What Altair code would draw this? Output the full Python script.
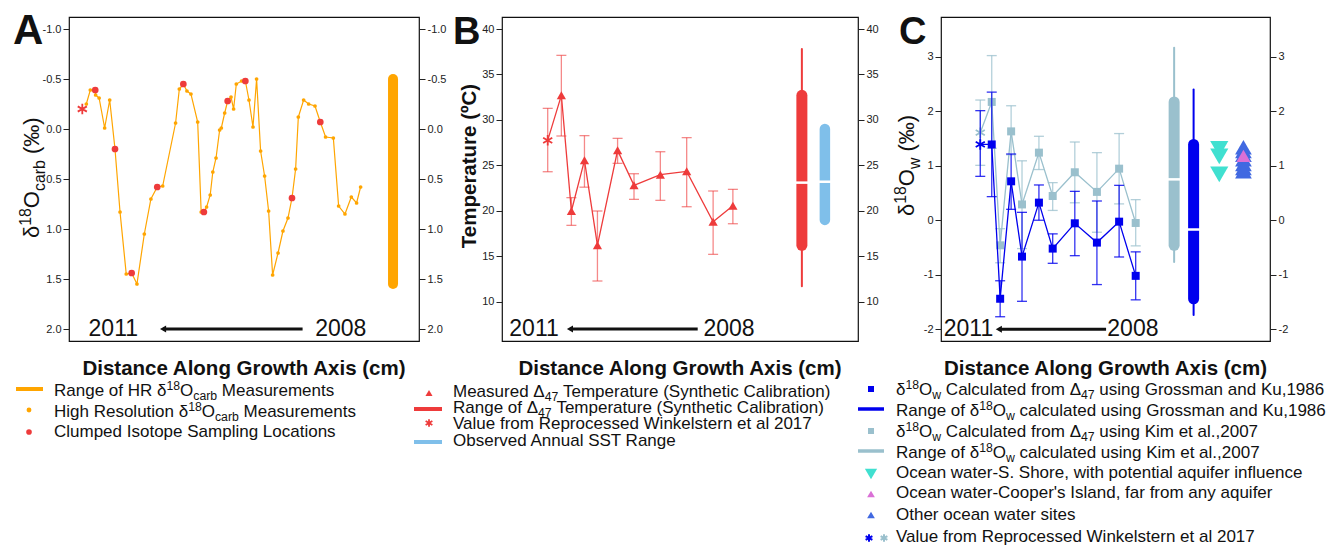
import altair as alt
import pandas as pd

FONT = "Liberation Sans"
ORANGE = "#FFA500"
RED = "#EE3B3B"
SKY = "#7FBFEA"
DARKBLUE = "#0000EE"
LIGHTBLUE = "#9AC0CD"
TURQ = "#40E0D0"
ORCHID = "#DA70D6"
ROYAL = "#4169E1"
INK = "#111111"

# ---------------- data ----------------
# Panel A: high-resolution d18O carb profile
hr_x = [0.31, 0.62, 1.0, 1.03, 1.3, 1.73, 2.12, 2.53, 2.92, 3.4, 3.82, 4.23, 4.8, 5.31, 5.8, 6.22,
        7.22, 7.51, 7.82, 8.1, 8.41, 8.93, 9.2, 9.41, 9.62, 9.9, 10.1, 10.35, 10.63, 10.76, 11.02,
        11.25, 11.51, 11.71, 11.92, 12.33, 12.62, 12.9, 13.21, 13.49, 13.8, 14.11, 14.42, 14.73,
        15.15, 15.53, 15.92, 16.23, 16.51, 16.72, 17.13, 17.52, 18.01, 18.42, 18.83, 19.43, 19.84,
        20.33, 20.82, 21.23, 21.54]
hr_d18o = [-0.25, -0.39, -0.39, -0.34, -0.31, -0.01, -0.29, 0.2, 0.83, 1.45, 1.44, 1.55, 1.05, 0.7,
           0.58, 0.57, -0.06, -0.40, -0.45, -0.38, -0.35, -0.07, 0.83, 0.83, 0.78, 0.66, 0.43, 0.29,
           0.01, -0.01, -0.16, -0.28, -0.32, -0.2, -0.45, -0.48, -0.48, -0.29, -0.02, -0.5, 0.22,
           0.47, 0.82, 1.46, 1.24, 1.02, 0.89, 0.69, 0.4, -0.12, -0.29, -0.25, -0.23, -0.07, 0.08,
           0.09, 0.77, 0.85, 0.68, 0.74, 0.58]
ci_x_a = [1.0, 2.53, 3.82, 5.8, 7.82, 9.41, 11.25, 12.62, 16.23, 18.42]
ci_d18o = [-0.39, 0.2, 1.44, 0.58, -0.45, 0.83, -0.28, -0.48, 0.69, -0.07]
wink_a = [0.0, -0.2]
hr_range = [-0.5, 1.55]
hr_range_x = 24.05

# Panel B: clumped temperatures
clumped_x = [1.39, 2.41, 3.74, 5.06, 7.11, 8.78, 11.46, 14.14, 16.83, 18.84]
temp = [32.7, 19.98, 25.55, 16.2, 26.65, 22.8, 23.97, 24.34, 18.8, 20.57]
temp_hi = [37.1, 21.45, 28.27, 19.98, 27.97, 24.08, 26.5, 28.05, 22.18, 22.36]
temp_lo = [28.23, 18.4, 22.6, 12.28, 25.22, 21.26, 21.15, 20.45, 15.21, 18.58]
wink_temp = [0.0, 27.75, 24.3, 31.27]  # x, value, lo, hi
temp_err_range = [11.7, 37.8]
temp_range = [16.2, 32.7]
temp_mid = 23.1
temp_range_x = 25.86
sst_range = [19.0, 29.0]
sst_mid = 23.2
sst_x = 28.2

# Panel C: d18O water
gk = [1.39, -1.44, 0.714, -0.667, 0.323, -0.52, -0.056, -0.41, -0.026, -1.02]
gk_hi = [2.35, -1.11, 1.215, 0.145, 0.647, -0.25, 0.53, 0.353, 0.64, -0.58]
gk_lo = [0.433, -1.77, 0.2, -1.487, 0.0, -0.79, -0.65, -1.18, -0.674, -1.46]
wink_gk = [0.0, 1.39, 0.805, 2.01]
kim = [2.17, -0.46, 1.63, 0.29, 1.24, 0.445, 0.88, 0.52, 0.946, -0.05]
kim_hi = [3.02, -0.155, 2.1, 1.09, 1.54, 0.69, 1.435, 1.24, 1.59, 0.378]
kim_lo = [1.32, -0.78, 1.2, -0.52, 0.93, 0.18, 0.32, -0.22, 0.3, -0.47]
wink_kim = [0.0, 1.606, 1.007, 2.205]
kim_err_range = [-0.765, 3.165]
kim_range = [-0.46, 2.17]
kim_mid = 0.75
kim_range_x = 23.5
gk_err_range = [-1.74, 2.40]
gk_range = [-1.44, 1.39]
gk_mid = -0.17
gk_range_x = 25.86
ocean_s_shore = [1.31, 1.17, 0.84]
ocean_s_shore_x = 28.97
ocean_cooper = [1.18]
ocean_other = [1.34, 1.27, 1.20, 1.12, 1.03, 0.96, 0.90]
ocean_other_x = 31.9

# ---------------- helpers ----------------
WID = {' ': 278, '(': 333, ')': 333, ',': 278, '-': 333, '.': 278, "'": 191,
       'A': 667, 'B': 667, 'C': 722, 'D': 722, 'E': 667, 'F': 611, 'G': 778, 'H': 722, 'I': 278,
       'J': 500, 'K': 667, 'L': 556, 'M': 833, 'N': 722, 'O': 778, 'P': 667, 'Q': 778, 'R': 722,
       'S': 667, 'T': 611, 'U': 722, 'V': 667, 'W': 944, 'X': 667, 'Y': 667, 'Z': 611,
       'a': 556, 'b': 556, 'c': 500, 'd': 556, 'e': 556, 'f': 278, 'g': 556, 'h': 556, 'i': 222,
       'j': 222, 'k': 500, 'l': 222, 'm': 833, 'n': 556, 'o': 556, 'p': 556, 'q': 556, 'r': 333,
       's': 500, 't': 278, 'u': 556, 'v': 500, 'w': 722, 'x': 500, 'y': 500, 'z': 500,
       'δ': 556, 'Δ': 668, '‰': 1000, 'º': 365}


def tw(s, size):
    return sum(WID.get(c, 556) for c in s) * size / 1000.0


ONE = pd.DataFrame({"d": [0]})
STAR = "M0,-1L0,1M-0.87,-0.5L0.87,0.5M-0.87,0.5L0.87,-0.5"


def txt(s, x, y, size, color=INK, weight="normal", align="left", baseline="alphabetic", angle=0):
    return alt.Chart(ONE).mark_text(text=s, font=FONT, fontSize=size, fontWeight=weight, align=align,
                                    baseline=baseline, angle=angle, color=color).encode(
        x=alt.value(x), y=alt.value(y))


def rich(pieces, x, y, size, angle=0):
    """Draw a line of text made of normal / superscript / subscript pieces."""
    out = []
    pos = 0.0
    for s, mode in pieces:
        fs = size if mode == "n" else size * 0.72
        shift = 0.0 if mode == "n" else (-0.38 * size if mode == "sup" else 0.26 * size)
        lead = len(s) - len(s.lstrip(" "))
        pos += tw(" " * lead, fs)          # leading blanks become an offset
        core = s.strip(" ")
        if angle == 0:
            out.append(txt(core, x + pos, y + shift, fs))
        else:
            out.append(txt(core, x + shift, y - pos, fs, angle=270))
        pos += tw(s[lead:], fs)
    return out


def sym(x, y, shape, size, color, filled=True, sw=1.5):
    return alt.Chart(ONE).mark_point(shape=shape, size=size, color=color, filled=filled, opacity=1,
                                     strokeWidth=sw).encode(x=alt.value(x), y=alt.value(y))


def hline(x1, x2, y, color, sw=4):
    return alt.Chart(ONE).mark_rule(color=color, strokeWidth=sw).encode(
        x=alt.value(x1), x2=alt.value(x2), y=alt.value(y))


AX = dict(labelFont=FONT, labelFontSize=11, labelColor="#222", tickColor="#222", tickSize=6,
          tickWidth=1, domain=False, grid=False, title=None)


def axis_layers(xs, ys, xticks, yticks, ylab):
    df = pd.DataFrame({"x": [xticks[0]], "y": [yticks[0]]})
    left = alt.Chart(df).mark_point(opacity=0).encode(
        x=alt.X("x:Q", scale=xs, axis=alt.Axis(values=xticks, orient="bottom", format="d",
                                               labelPadding=3, **AX)),
        y=alt.Y("y:Q", scale=ys, axis=alt.Axis(values=yticks, orient="left", labelExpr=ylab,
                                               labelPadding=2, **AX)))
    right = alt.Chart(df).mark_point(opacity=0).encode(
        x=alt.X("x:Q", scale=xs, axis=None),
        y=alt.Y("y:Q", scale=ys, axis=alt.Axis(values=yticks, orient="right", labelExpr=ylab,
                                               labelPadding=2, **AX)))
    return [left, right]


def annot(xs, ys, x2011, x2008, xtail, xhead, yv):
    df = pd.DataFrame({"a": [x2011], "b": [x2008], "t": [xtail], "h": [xhead], "y": [yv]})
    base = alt.Chart(df)
    return [
        base.mark_text(text="2011", font=FONT, fontSize=23, baseline="middle", align="center",
                       color=INK).encode(x=alt.X("a:Q", scale=xs, axis=None),
                                         y=alt.Y("y:Q", scale=ys, axis=None)),
        base.mark_text(text="2008", font=FONT, fontSize=23, baseline="middle", align="center",
                       color=INK).encode(x=alt.X("b:Q", scale=xs, axis=None),
                                         y=alt.Y("y:Q", scale=ys, axis=None)),
        base.mark_rule(color=INK, strokeWidth=3).encode(
            x=alt.X("t:Q", scale=xs, axis=None), x2="h:Q", y=alt.Y("y:Q", scale=ys, axis=None)),
        base.mark_point(shape="triangle-left", size=50, filled=True, color=INK, opacity=1).encode(
            x=alt.X("h:Q", scale=xs, axis=None), y=alt.Y("y:Q", scale=ys, axis=None)),
    ]


def errbars(df, xs, ys, color, op, xf="x", lo="lo", hi="hi", sw=1.3, cap=100):
    b = alt.Chart(df)
    X = alt.X(f"{xf}:Q", scale=xs, axis=None)
    return [
        b.mark_rule(color=color, opacity=op, strokeWidth=sw).encode(
            x=X, y=alt.Y(f"{lo}:Q", scale=ys, axis=None), y2=f"{hi}:Q"),
        b.mark_point(shape="stroke", size=cap, color=color, opacity=op, filled=False, strokeWidth=sw).encode(
            x=X, y=alt.Y(f"{lo}:Q", scale=ys, axis=None)),
        b.mark_point(shape="stroke", size=cap, color=color, opacity=op, filled=False, strokeWidth=sw).encode(
            x=X, y=alt.Y(f"{hi}:Q", scale=ys, axis=None)),
    ]


def rangebar(xs, ys, xv, lo, hi, color, sw):
    df = pd.DataFrame({"x": [xv], "lo": [lo], "hi": [hi]})
    return alt.Chart(df).mark_rule(color=color, strokeWidth=sw, strokeCap="round").encode(
        x=alt.X("x:Q", scale=xs, axis=None), y=alt.Y("lo:Q", scale=ys, axis=None), y2="hi:Q")


def gap(xs, ys, xv, yv):
    df = pd.DataFrame({"x": [xv], "y": [yv]})
    return alt.Chart(df).mark_point(shape="stroke", size=196, color="white", filled=False,
                                    strokeWidth=2.5, opacity=1).encode(
        x=alt.X("x:Q", scale=xs, axis=None), y=alt.Y("y:Q", scale=ys, axis=None))


XTITLE = "Distance Along Growth Axis (cm)"
MINUS = "replace(format(datum.value, '.1f'), '\u2212', '-')"
MINUS_D = "replace(format(datum.value, 'd'), '\u2212', '-')"

# ---------------- Panel A ----------------
WA, HA = 350, 324
xsA = alt.Scale(domain=[-1.03, 26.06], nice=False, zero=False)
ysA = alt.Scale(domain=[-1.12, 2.12], nice=False, zero=False, reverse=True)
dfA = pd.DataFrame({"x": hr_x, "y": hr_d18o})
dfAci = pd.DataFrame({"x": ci_x_a, "y": ci_d18o})
dfAw = pd.DataFrame({"x": [wink_a[0]], "y": [wink_a[1]]})
XA = alt.X("x:Q", scale=xsA, axis=None)
YA = alt.Y("y:Q", scale=ysA, axis=None)

layersA = axis_layers(xsA, ysA, [0, 5, 10, 15, 20, 25], [-1.0, -0.5, 0.0, 0.5, 1.0, 1.5, 2.0], MINUS)
layersA += [
    alt.Chart(ONE).mark_rect(opacity=0).encode(x=alt.value(-68), x2=alt.value(-67),
                                               y=alt.value(-16), y2=alt.value(-15)),
    alt.Chart(dfA).mark_line(color=ORANGE, strokeWidth=1.2).encode(x=XA, y=YA),
    alt.Chart(dfA).mark_point(filled=True, color=ORANGE, size=14, opacity=1).encode(x=XA, y=YA),
    alt.Chart(dfAci).mark_point(filled=True, color=RED, size=45, opacity=1).encode(x=XA, y=YA),
    alt.Chart(dfAw).mark_point(shape=STAR, filled=False, color=RED, size=110, strokeWidth=1.8,
                               opacity=1).encode(x=XA, y=YA),
    rangebar(xsA, ysA, hr_range_x, hr_range[0], hr_range[1], ORANGE, 10),
]
layersA += annot(xsA, ysA, 2.4, 20.0, 17.05, 6.25, 2.0)
layersA += [
    txt("A", -56, 27, 42, weight="bold"),
    txt(XTITLE, WA / 2, 358, 20.5, weight="bold", align="center"),
]
layersA += rich([("δ", "n"), ("18", "sup"), ("O", "n"), ("carb", "sub"), (" (‰)", "n")], -30, 221, 22, angle=270)
# legend A
layersA += [hline(-53, -26, 372, ORANGE), sym(-40, 393, "circle", 24, ORANGE), sym(-40, 415, "circle", 32, RED)]
layersA += rich([("Range of HR δ", "n"), ("18", "sup"), ("O", "n"), ("carb", "sub"), (" Measurements", "n")], -15, 379, 17)
layersA += rich([("High Resolution δ", "n"), ("18", "sup"), ("O", "n"), ("carb", "sub"), (" Measurements", "n")], -15, 400, 17)
layersA += [txt("Clumped Isotope Sampling Locations", -15, 420, 17)]
panelA = alt.layer(*layersA).properties(width=WA, height=HA).resolve_axis(y="independent")

# ---------------- Panel B ----------------
WB, HB = 356, 324
xsB = alt.Scale(domain=[-4.65, 31.57], nice=False, zero=False)
ysB = alt.Scale(domain=[5.68, 41.32], nice=False, zero=False)
dfB = pd.DataFrame({"x": clumped_x, "y": temp, "lo": temp_lo, "hi": temp_hi})
dfBw = pd.DataFrame({"x": [wink_temp[0]], "y": [wink_temp[1]], "lo": [wink_temp[2]], "hi": [wink_temp[3]]})
dfBl = pd.DataFrame({"x": [wink_temp[0]] + clumped_x, "y": [wink_temp[1]] + temp})
XB = alt.X("x:Q", scale=xsB, axis=None)
YB = alt.Y("y:Q", scale=ysB, axis=None)

layersB = axis_layers(xsB, ysB, [0, 5, 10, 15, 20], [10, 15, 20, 25, 30, 35, 40], MINUS_D)
layersB += errbars(dfB, xsB, ysB, RED, 0.6)
layersB += errbars(dfBw, xsB, ysB, RED, 0.6)
layersB += [
    alt.Chart(dfBl).mark_line(color=RED, strokeWidth=1.3).encode(x=XB, y=YB),
    alt.Chart(dfB).mark_point(shape="triangle-up", filled=True, color=RED, size=85, opacity=1).encode(x=XB, y=YB),
    alt.Chart(dfBw).mark_point(shape=STAR, filled=False, color=RED, size=110, strokeWidth=1.8,
                               opacity=1).encode(x=XB, y=YB),
    rangebar(xsB, ysB, temp_range_x, temp_err_range[0], temp_err_range[1], RED, 2),
    rangebar(xsB, ysB, temp_range_x, temp_range[0], temp_range[1], RED, 11),
    gap(xsB, ysB, temp_range_x, temp_mid),
    rangebar(xsB, ysB, sst_x, sst_range[0], sst_range[1], SKY, 10.5),
    gap(xsB, ysB, sst_x, sst_mid),
]
layersB += annot(xsB, ysB, -1.39, 18.45, 15.26, 2.26, 7.0)
layersB += [
    txt("B", -49, 27, 38, weight="bold"),
    txt(XTITLE, WB / 2, 358, 20.5, weight="bold", align="center"),
    txt("Temperature (ºC)", -26, 149, 20.5, weight="bold", align="center", angle=270),
]
layersB += [sym(-73, 376, "triangle-up", 50, RED), hline(-88, -60, 392, RED),
            sym(-73, 406, STAR, 60, RED, filled=False, sw=1.8), hline(-88, -60, 425, SKY)]
layersB += rich([("Measured Δ", "n"), ("47", "sub"), (" Temperature (Synthetic Calibration)", "n")], -49, 380, 17)
layersB += rich([("Range of Δ", "n"), ("47", "sub"), (" Temperature (Synthetic Calibration)", "n")], -49, 396, 17)
layersB += [txt("Value from Reprocessed Winkelstern et al 2017", -49, 412, 17),
            txt("Observed Annual SST Range", -49, 429, 17)]
panelB = alt.layer(*layersB).properties(width=WB, height=HB).resolve_axis(y="independent")

# ---------------- Panel C ----------------
WC, HC = 329, 324
xsC = alt.Scale(domain=[-4.76, 35.12], nice=False, zero=False)
ysC = alt.Scale(domain=[-2.215, 3.728], nice=False, zero=False)
dfCg = pd.DataFrame({"x": clumped_x, "y": gk, "lo": gk_lo, "hi": gk_hi})
dfCk = pd.DataFrame({"x": clumped_x, "y": kim, "lo": kim_lo, "hi": kim_hi})
dfCgw = pd.DataFrame({"x": [wink_gk[0]], "y": [wink_gk[1]], "lo": [wink_gk[2]], "hi": [wink_gk[3]]})
dfCkw = pd.DataFrame({"x": [wink_kim[0]], "y": [wink_kim[1]], "lo": [wink_kim[2]], "hi": [wink_kim[3]]})
dfCgl = pd.DataFrame({"x": [wink_gk[0]] + clumped_x, "y": [wink_gk[1]] + gk})
dfCkl = pd.DataFrame({"x": [wink_kim[0]] + clumped_x, "y": [wink_kim[1]] + kim})
dfSS = pd.DataFrame({"x": [ocean_s_shore_x] * len(ocean_s_shore), "y": ocean_s_shore})
dfOT = pd.DataFrame({"x": [ocean_other_x] * len(ocean_other), "y": ocean_other})
dfCO = pd.DataFrame({"x": [ocean_other_x] * len(ocean_cooper), "y": ocean_cooper})
XC = alt.X("x:Q", scale=xsC, axis=None)
YC = alt.Y("y:Q", scale=ysC, axis=None)

layersC = axis_layers(xsC, ysC, [0, 5, 10, 15, 20], [-2, -1, 0, 1, 2, 3], MINUS_D)
layersC += errbars(dfCk, xsC, ysC, LIGHTBLUE, 0.75)
layersC += errbars(dfCkw, xsC, ysC, LIGHTBLUE, 0.75)
layersC += [
    alt.Chart(dfCkl).mark_line(color=LIGHTBLUE, strokeWidth=1.3).encode(x=XC, y=YC),
    alt.Chart(dfCk).mark_point(shape="square", filled=True, color=LIGHTBLUE, size=64, opacity=1).encode(x=XC, y=YC),
    alt.Chart(dfCkw).mark_point(shape=STAR, filled=False, color=LIGHTBLUE, size=110, strokeWidth=1.8,
                                opacity=1).encode(x=XC, y=YC),
]
layersC += errbars(dfCg, xsC, ysC, DARKBLUE, 0.8)
layersC += errbars(dfCgw, xsC, ysC, DARKBLUE, 0.8)
layersC += [
    alt.Chart(dfCgl).mark_line(color=DARKBLUE, strokeWidth=1.3).encode(x=XC, y=YC),
    alt.Chart(dfCg).mark_point(shape="square", filled=True, color=DARKBLUE, size=64, opacity=1).encode(x=XC, y=YC),
    alt.Chart(dfCgw).mark_point(shape=STAR, filled=False, color=DARKBLUE, size=110, strokeWidth=1.8,
                                opacity=1).encode(x=XC, y=YC),
    rangebar(xsC, ysC, kim_range_x, kim_err_range[0], kim_err_range[1], LIGHTBLUE, 2),
    rangebar(xsC, ysC, kim_range_x, kim_range[0], kim_range[1], LIGHTBLUE, 11),
    gap(xsC, ysC, kim_range_x, kim_mid),
    rangebar(xsC, ysC, gk_range_x, gk_err_range[0], gk_err_range[1], DARKBLUE, 2),
    rangebar(xsC, ysC, gk_range_x, gk_range[0], gk_range[1], DARKBLUE, 11),
    gap(xsC, ysC, gk_range_x, gk_mid),
    alt.Chart(dfSS).mark_point(shape="triangle-down", filled=True, color=TURQ, size=330, opacity=1).encode(x=XC, y=YC),
    alt.Chart(dfOT).mark_point(shape="triangle-up", filled=True, color=ROYAL, size=280, opacity=1).encode(x=XC, y=YC),
    alt.Chart(dfCO).mark_point(shape="triangle-up", filled=True, color=ORCHID, size=200, opacity=1).encode(x=XC, y=YC),
]
layersC += annot(xsC, ysC, -1.43, 18.5, 15.25, 2.25, -2.0)
layersC += [
    txt("C", -42, 27, 38, weight="bold"),
    txt(XTITLE, WC / 2, 358, 20.5, weight="bold", align="center"),
]
layersC += rich([("δ", "n"), ("18", "sup"), ("O", "n"), ("w", "sub"), (" (‰)", "n")], -27, 199, 22, angle=270)
layersC += [
    sym(-70, 372, "square", 36, DARKBLUE), hline(-83, -57, 392, DARKBLUE, 3.5),
    sym(-70, 414, "square", 36, LIGHTBLUE), hline(-83, -57, 434, LIGHTBLUE, 3.5),
    sym(-70, 457, "triangle-down", 150, TURQ), sym(-70, 477, "triangle-up", 60, ORCHID),
    sym(-70, 498, "triangle-up", 60, ROYAL),
    sym(-72, 521, STAR, 60, DARKBLUE, filled=False, sw=2), sym(-57, 521, STAR, 60, LIGHTBLUE, filled=False, sw=2),
]
layersC += rich([("δ", "n"), ("18", "sup"), ("O", "n"), ("w", "sub"), (" Calculated from Δ", "n"), ("47", "sub"),
                 (" using Grossman and Ku,1986", "n")], -45, 378, 17)
layersC += rich([("Range of δ", "n"), ("18", "sup"), ("O", "n"), ("w", "sub"),
                 (" calculated using Grossman and Ku,1986", "n")], -45, 399, 17)
layersC += rich([("δ", "n"), ("18", "sup"), ("O", "n"), ("w", "sub"), (" Calculated from Δ", "n"), ("47", "sub"),
                 (" using Kim et al.,2007", "n")], -45, 420, 17)
layersC += rich([("Range of δ", "n"), ("18", "sup"), ("O", "n"), ("w", "sub"),
                 (" calculated using Kim et al.,2007", "n")], -45, 441, 17)
layersC += [
    txt("Ocean water-S. Shore, with potential aquifer influence", -45, 461, 17),
    txt("Ocean water-Cooper's Island, far from any aquifer", -45, 481, 17),
    txt("Other ocean water sites", -45, 503, 17),
    txt("Value from Reprocessed Winkelstern et al 2017", -45, 525, 17),
]
panelC = alt.layer(*layersC).properties(width=WC, height=HC).resolve_axis(y="independent")

chart = alt.hconcat(panelA, panelB, panelC, spacing=83, bounds="flush").properties(
    padding=0
).configure_view(stroke="#111111", strokeWidth=1.2)

chart.save("out.html", embed_options={"renderer": "svg", "actions": False})
